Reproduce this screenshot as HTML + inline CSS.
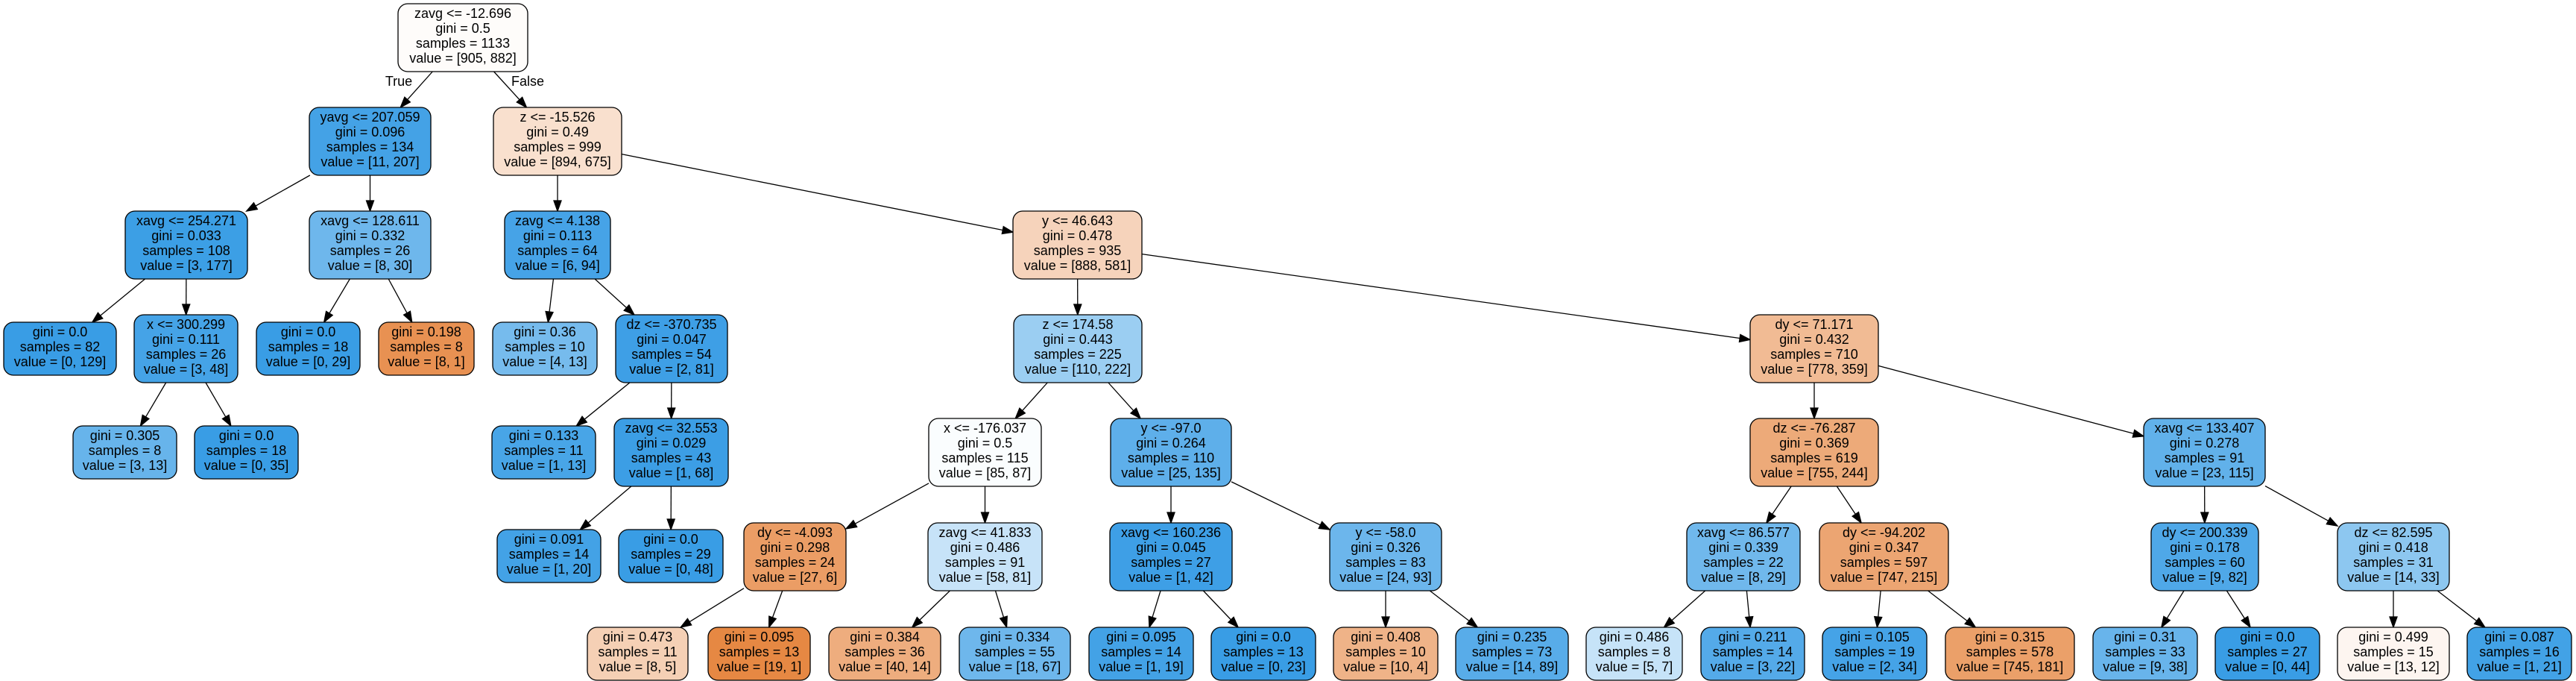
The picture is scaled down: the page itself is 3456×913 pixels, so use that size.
<!DOCTYPE html>
<html><head><meta charset="utf-8"><style>
html,body{margin:0;padding:0;background:#fff;}
svg{display:block;}
text{font-family:"Liberation Sans",Arial,sans-serif;font-size:18px;text-anchor:middle;fill:#000;}
rect{stroke:#000;stroke-width:1.3;}
</style></head><body>
<svg id="s" width="3456" height="913" viewBox="0 0 3456 913" xmlns="http://www.w3.org/2000/svg">
<g id="edges"></g>
<text x="535" y="115">True</text>
<text x="708" y="115">False</text>

<g class="n" id="n0"><rect x="534" y="5" width="174" height="91"/><text x="621" y="24">zavg &lt;= -12.696</text><text x="621" y="44">gini = 0.5</text><text x="621" y="64">samples = 1133</text><text x="621" y="84">value = [905, 882]</text></g>
<g class="n" id="n1"><rect x="415" y="144" width="163" height="91"/><text x="496.5" y="163">yavg &lt;= 207.059</text><text x="496.5" y="183">gini = 0.096</text><text x="496.5" y="203">samples = 134</text><text x="496.5" y="223">value = [11, 207]</text></g>
<g class="n" id="n2"><rect x="662" y="144" width="172" height="91"/><text x="748" y="163">z &lt;= -15.526</text><text x="748" y="183">gini = 0.49</text><text x="748" y="203">samples = 999</text><text x="748" y="223">value = [894, 675]</text></g>
<g class="n" id="n3"><rect x="168" y="283" width="164" height="91"/><text x="250" y="302">xavg &lt;= 254.271</text><text x="250" y="322">gini = 0.033</text><text x="250" y="342">samples = 108</text><text x="250" y="362">value = [3, 177]</text></g>
<g class="n" id="n4"><rect x="415" y="283" width="163" height="91"/><text x="496.5" y="302">xavg &lt;= 128.611</text><text x="496.5" y="322">gini = 0.332</text><text x="496.5" y="342">samples = 26</text><text x="496.5" y="362">value = [8, 30]</text></g>
<g class="n" id="n5"><rect x="677" y="283" width="142" height="91"/><text x="748" y="302">zavg &lt;= 4.138</text><text x="748" y="322">gini = 0.113</text><text x="748" y="342">samples = 64</text><text x="748" y="362">value = [6, 94]</text></g>
<g class="n" id="n6"><rect x="1359" y="283" width="173" height="91"/><text x="1445.5" y="302">y &lt;= 46.643</text><text x="1445.5" y="322">gini = 0.478</text><text x="1445.5" y="342">samples = 935</text><text x="1445.5" y="362">value = [888, 581]</text></g>

<g class="n" id="n7"><rect x="5" y="432" width="151" height="71"/><text x="80.5" y="451">gini = 0.0</text><text x="80.5" y="471">samples = 82</text><text x="80.5" y="491">value = [0, 129]</text></g>
<g class="n" id="n8"><rect x="180" y="422" width="139" height="91"/><text x="249.5" y="441">x &lt;= 300.299</text><text x="249.5" y="461">gini = 0.111</text><text x="249.5" y="481">samples = 26</text><text x="249.5" y="501">value = [3, 48]</text></g>
<g class="n" id="n9"><rect x="344" y="432" width="139" height="71"/><text x="413.5" y="451">gini = 0.0</text><text x="413.5" y="471">samples = 18</text><text x="413.5" y="491">value = [0, 29]</text></g>
<g class="n" id="n10"><rect x="508" y="432" width="128" height="71"/><text x="572" y="451">gini = 0.198</text><text x="572" y="471">samples = 8</text><text x="572" y="491">value = [8, 1]</text></g>
<g class="n" id="n11"><rect x="661" y="432" width="140" height="71"/><text x="731" y="451">gini = 0.36</text><text x="731" y="471">samples = 10</text><text x="731" y="491">value = [4, 13]</text></g>
<g class="n" id="n12"><rect x="826" y="422" width="150" height="91"/><text x="901" y="441">dz &lt;= -370.735</text><text x="901" y="461">gini = 0.047</text><text x="901" y="481">samples = 54</text><text x="901" y="501">value = [2, 81]</text></g>
<g class="n" id="n13"><rect x="1360" y="422" width="172" height="91"/><text x="1446" y="441">z &lt;= 174.58</text><text x="1446" y="461">gini = 0.443</text><text x="1446" y="481">samples = 225</text><text x="1446" y="501">value = [110, 222]</text></g>
<g class="n" id="n14"><rect x="2348" y="422" width="172" height="91"/><text x="2434" y="441">dy &lt;= 71.171</text><text x="2434" y="461">gini = 0.432</text><text x="2434" y="481">samples = 710</text><text x="2434" y="501">value = [778, 359]</text></g>

<g class="n" id="n15"><rect x="98" y="571" width="139" height="71"/><text x="167.5" y="590">gini = 0.305</text><text x="167.5" y="610">samples = 8</text><text x="167.5" y="630">value = [3, 13]</text></g>
<g class="n" id="n16"><rect x="261" y="571" width="139" height="71"/><text x="330.5" y="590">gini = 0.0</text><text x="330.5" y="610">samples = 18</text><text x="330.5" y="630">value = [0, 35]</text></g>
<g class="n" id="n17"><rect x="660" y="571" width="139" height="71"/><text x="729.5" y="590">gini = 0.133</text><text x="729.5" y="610">samples = 11</text><text x="729.5" y="630">value = [1, 13]</text></g>
<g class="n" id="n18"><rect x="824" y="561" width="153" height="91"/><text x="900.5" y="580">zavg &lt;= 32.553</text><text x="900.5" y="600">gini = 0.029</text><text x="900.5" y="620">samples = 43</text><text x="900.5" y="640">value = [1, 68]</text></g>
<g class="n" id="n19"><rect x="1246" y="561" width="151" height="91"/><text x="1321.5" y="580">x &lt;= -176.037</text><text x="1321.5" y="600">gini = 0.5</text><text x="1321.5" y="620">samples = 115</text><text x="1321.5" y="640">value = [85, 87]</text></g>
<g class="n" id="n20"><rect x="1490" y="561" width="162" height="91"/><text x="1571" y="580">y &lt;= -97.0</text><text x="1571" y="600">gini = 0.264</text><text x="1571" y="620">samples = 110</text><text x="1571" y="640">value = [25, 135]</text></g>
<g class="n" id="n21"><rect x="2348" y="561" width="172" height="91"/><text x="2434" y="580">dz &lt;= -76.287</text><text x="2434" y="600">gini = 0.369</text><text x="2434" y="620">samples = 619</text><text x="2434" y="640">value = [755, 244]</text></g>
<g class="n" id="n22"><rect x="2876" y="561" width="163" height="91"/><text x="2957.5" y="580">xavg &lt;= 133.407</text><text x="2957.5" y="600">gini = 0.278</text><text x="2957.5" y="620">samples = 91</text><text x="2957.5" y="640">value = [23, 115]</text></g>

<g class="n" id="n23"><rect x="667" y="710" width="139" height="71"/><text x="736.5" y="729">gini = 0.091</text><text x="736.5" y="749">samples = 14</text><text x="736.5" y="769">value = [1, 20]</text></g>
<g class="n" id="n24"><rect x="830" y="710" width="140" height="71"/><text x="900" y="729">gini = 0.0</text><text x="900" y="749">samples = 29</text><text x="900" y="769">value = [0, 48]</text></g>
<g class="n" id="n25"><rect x="998" y="701" width="137" height="91"/><text x="1066.5" y="720">dy &lt;= -4.093</text><text x="1066.5" y="740">gini = 0.298</text><text x="1066.5" y="760">samples = 24</text><text x="1066.5" y="780">value = [27, 6]</text></g>
<g class="n" id="n26"><rect x="1245" y="701" width="153" height="91"/><text x="1321.5" y="720">zavg &lt;= 41.833</text><text x="1321.5" y="740">gini = 0.486</text><text x="1321.5" y="760">samples = 91</text><text x="1321.5" y="780">value = [58, 81]</text></g>
<g class="n" id="n27"><rect x="1489" y="701" width="164" height="91"/><text x="1571" y="720">xavg &lt;= 160.236</text><text x="1571" y="740">gini = 0.045</text><text x="1571" y="760">samples = 27</text><text x="1571" y="780">value = [1, 42]</text></g>
<g class="n" id="n28"><rect x="1784" y="701" width="150" height="91"/><text x="1859" y="720">y &lt;= -58.0</text><text x="1859" y="740">gini = 0.326</text><text x="1859" y="760">samples = 83</text><text x="1859" y="780">value = [24, 93]</text></g>
<g class="n" id="n29"><rect x="2263" y="701" width="152" height="91"/><text x="2339" y="720">xavg &lt;= 86.577</text><text x="2339" y="740">gini = 0.339</text><text x="2339" y="760">samples = 22</text><text x="2339" y="780">value = [8, 29]</text></g>
<g class="n" id="n30"><rect x="2441" y="701" width="173" height="91"/><text x="2527.5" y="720">dy &lt;= -94.202</text><text x="2527.5" y="740">gini = 0.347</text><text x="2527.5" y="760">samples = 597</text><text x="2527.5" y="780">value = [747, 215]</text></g>
<g class="n" id="n31"><rect x="2886" y="701" width="144" height="91"/><text x="2958" y="720">dy &lt;= 200.339</text><text x="2958" y="740">gini = 0.178</text><text x="2958" y="760">samples = 60</text><text x="2958" y="780">value = [9, 82]</text></g>
<g class="n" id="n32"><rect x="3136" y="701" width="150" height="91"/><text x="3211" y="720">dz &lt;= 82.595</text><text x="3211" y="740">gini = 0.418</text><text x="3211" y="760">samples = 31</text><text x="3211" y="780">value = [14, 33]</text></g>

<g class="n" id="n33"><rect x="788" y="841" width="135" height="71"/><text x="855.5" y="860">gini = 0.473</text><text x="855.5" y="880">samples = 11</text><text x="855.5" y="900">value = [8, 5]</text></g>
<g class="n" id="n34"><rect x="950" y="841" width="137" height="71"/><text x="1018.5" y="860">gini = 0.095</text><text x="1018.5" y="880">samples = 13</text><text x="1018.5" y="900">value = [19, 1]</text></g>
<g class="n" id="n35"><rect x="1112" y="841" width="150" height="71"/><text x="1187" y="860">gini = 0.384</text><text x="1187" y="880">samples = 36</text><text x="1187" y="900">value = [40, 14]</text></g>
<g class="n" id="n36"><rect x="1287" y="841" width="149" height="71"/><text x="1361.5" y="860">gini = 0.334</text><text x="1361.5" y="880">samples = 55</text><text x="1361.5" y="900">value = [18, 67]</text></g>
<g class="n" id="n37"><rect x="1461" y="841" width="140" height="71"/><text x="1531" y="860">gini = 0.095</text><text x="1531" y="880">samples = 14</text><text x="1531" y="900">value = [1, 19]</text></g>
<g class="n" id="n38"><rect x="1625" y="841" width="140" height="71"/><text x="1695" y="860">gini = 0.0</text><text x="1695" y="880">samples = 13</text><text x="1695" y="900">value = [0, 23]</text></g>
<g class="n" id="n39"><rect x="1789" y="841" width="140" height="71"/><text x="1859" y="860">gini = 0.408</text><text x="1859" y="880">samples = 10</text><text x="1859" y="900">value = [10, 4]</text></g>
<g class="n" id="n40"><rect x="1953" y="841" width="151" height="71"/><text x="2028.5" y="860">gini = 0.235</text><text x="2028.5" y="880">samples = 73</text><text x="2028.5" y="900">value = [14, 89]</text></g>
<g class="n" id="n41"><rect x="2128" y="841" width="129" height="71"/><text x="2192.5" y="860">gini = 0.486</text><text x="2192.5" y="880">samples = 8</text><text x="2192.5" y="900">value = [5, 7]</text></g>
<g class="n" id="n42"><rect x="2282" y="841" width="139" height="71"/><text x="2351.5" y="860">gini = 0.211</text><text x="2351.5" y="880">samples = 14</text><text x="2351.5" y="900">value = [3, 22]</text></g>
<g class="n" id="n43"><rect x="2445" y="841" width="140" height="71"/><text x="2515" y="860">gini = 0.105</text><text x="2515" y="880">samples = 19</text><text x="2515" y="900">value = [2, 34]</text></g>
<g class="n" id="n44"><rect x="2610" y="841" width="173" height="71"/><text x="2696.5" y="860">gini = 0.315</text><text x="2696.5" y="880">samples = 578</text><text x="2696.5" y="900">value = [745, 181]</text></g>
<g class="n" id="n45"><rect x="2808" y="841" width="140" height="71"/><text x="2878" y="860">gini = 0.31</text><text x="2878" y="880">samples = 33</text><text x="2878" y="900">value = [9, 38]</text></g>
<g class="n" id="n46"><rect x="2972" y="841" width="140" height="71"/><text x="3042" y="860">gini = 0.0</text><text x="3042" y="880">samples = 27</text><text x="3042" y="900">value = [0, 44]</text></g>
<g class="n" id="n47"><rect x="3136" y="841" width="150" height="71"/><text x="3211" y="860">gini = 0.499</text><text x="3211" y="880">samples = 15</text><text x="3211" y="900">value = [13, 12]</text></g>
<g class="n" id="n48"><rect x="3310" y="841" width="140" height="71"/><text x="3380" y="860">gini = 0.087</text><text x="3380" y="880">samples = 16</text><text x="3380" y="900">value = [1, 21]</text></g>
</svg>
<script>
(function(){
var NS="http://www.w3.org/2000/svg";
var nodes=document.querySelectorAll("g.n");
for(var i=0;i<nodes.length;i++){
  var g=nodes[i],r=g.querySelector("rect");
  r.setAttribute("rx",13);r.setAttribute("ry",13);
  var ts=g.querySelectorAll("text");var t=ts[ts.length-1].textContent;
  var m=t.match(/\[(\d+), (\d+)\]/);var a=+m[1],b=+m[2],s=a+b;
  var pa=a/s,pb=b/s;var c=pa>=pb?[229,129,57]:[57,157,229];
  var hi=Math.max(pa,pb),lo=Math.min(pa,pb);var al=(hi-lo)/(1-lo);
  var col=c.map(function(v){return Math.round(al*v+(1-al)*255);});
  r.setAttribute("fill","rgb("+col.join(",")+")");
}
function box(id){var r=document.querySelector("#n"+id+" rect");var x=+r.getAttribute("x"),y=+r.getAttribute("y"),w=+r.getAttribute("width"),h=+r.getAttribute("height");return{cx:x+w/2,cy:y+h/2,hw:w/2,hh:h/2};}
function clip(bx,dx,dy){var t=1e9;if(Math.abs(dx)>1e-6)t=Math.min(t,bx.hw/Math.abs(dx));if(Math.abs(dy)>1e-6)t=Math.min(t,bx.hh/Math.abs(dy));return[bx.cx+dx*t,bx.cy+dy*t];}
var E=[[0,1],[0,2],[1,3],[1,4],[2,5],[2,6],[3,7],[3,8],[4,9],[4,10],[5,11],[5,12],[6,13],[6,14],[8,15],[8,16],[12,17],[12,18],[13,19],[13,20],[14,21],[14,22],[18,23],[18,24],[19,25],[19,26],[20,27],[20,28],[21,29],[21,30],[22,31],[22,32],[25,33],[25,34],[26,35],[26,36],[27,37],[27,38],[28,39],[28,40],[29,41],[29,42],[30,43],[30,44],[31,45],[31,46],[32,47],[32,48]];
var eg=document.getElementById("edges"),html="";
E.forEach(function(e){
  var p=box(e[0]),q=box(e[1]);var dx=q.cx-p.cx,dy=q.cy-p.cy;var L=Math.sqrt(dx*dx+dy*dy);
  var s=clip(p,dx,dy),t=clip(q,-dx,-dy);var ux=dx/L,uy=dy/L;var AL=14,AW=5;
  var bx=t[0]-ux*AL,by=t[1]-uy*AL;
  html+='<line x1="'+s[0]+'" y1="'+s[1]+'" x2="'+bx+'" y2="'+by+'" stroke="#000" stroke-width="1.3"/>';
  html+='<polygon points="'+t[0]+','+t[1]+' '+(bx-uy*AW)+','+(by+ux*AW)+' '+(bx+uy*AW)+','+(by-ux*AW)+'" fill="#000" stroke="#000" stroke-width="1.3"/>';
});
eg.innerHTML=html;
})();
</script>
</body></html>
